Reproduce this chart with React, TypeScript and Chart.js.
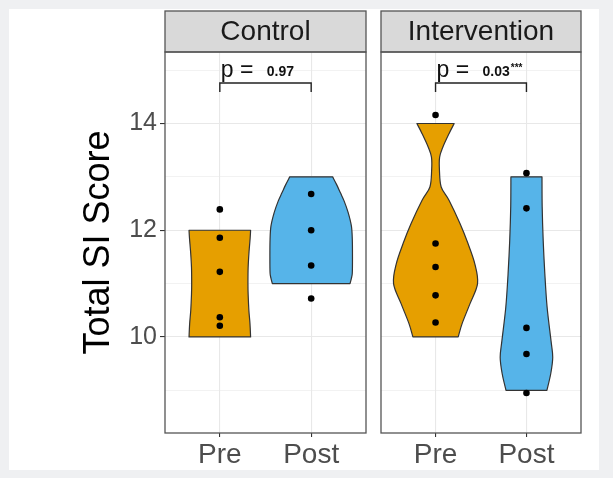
import React, { useEffect, useRef } from 'react';
import { Chart, registerables } from 'chart.js';

Chart.register(...registerables);

const FONT = "'Liberation Sans', Arial, Helvetica, sans-serif";

// ---- categories, ticks, labels ----
const categories = ['Pre', 'Post'];
const panelTitles = ['Control', 'Intervention'];
const yTickValues = [9, 10, 11, 12, 13, 14, 15];
const yLabelValues = [10, 12, 14];
const yAxisTitle = 'Total SI Score';

// ---- observed scores ----
const controlPre = [12.39, 11.86, 11.22, 10.37, 10.21];
const controlPost = [12.68, 12.0, 11.34, 10.72];
const interventionPre = [14.16, 11.75, 11.31, 10.78, 10.27];
const interventionPost = [13.07, 12.41, 10.17, 9.68, 8.95];

// ---- violin outlines: score level and half-width (x units) ----
const controlPreViolinY = [10.0, 10.25, 10.5, 10.8, 11.0, 11.3, 11.6, 11.85, 12.0];
const controlPreViolinW = [0.337, 0.33, 0.318, 0.31, 0.308, 0.31, 0.32, 0.332, 0.337];
const controlPostViolinY = [11.0, 11.1, 11.2, 11.5, 11.83, 12.08, 12.33, 12.55, 12.7, 12.85, 13.0];
const controlPostViolinW = [0.425, 0.44, 0.45, 0.452, 0.45, 0.44, 0.405, 0.36, 0.32, 0.28, 0.235];
const interventionPreViolinY = [10.0, 10.25, 10.62, 11.0, 11.37, 11.75, 12.12, 12.56, 12.81, 13.12, 13.37, 13.56, 13.81, 14.0];
const interventionPreViolinW = [0.249, 0.292, 0.378, 0.462, 0.432, 0.357, 0.27, 0.148, 0.062, 0.043, 0.045, 0.081, 0.148, 0.205];
const interventionPostViolinY = [9.0, 9.31, 9.62, 9.93, 10.56, 11.19, 11.81, 12.44, 13.0];
const interventionPostViolinW = [0.225, 0.267, 0.289, 0.27, 0.227, 0.202, 0.184, 0.173, 0.171];

// ---- comparison annotations ----
const pValueLabels = ['0.97', '0.03'];
const pStars = ['', '***'];
const bracketY = 14.76;
const bracketTipY = 14.59;
const pLabelY = 14.87;

const preColor = '#E69F00';
const postColor = '#56B4E9';

type Violin = { x: number; ys: number[]; ws: number[]; color: string };

const panelData = [
  {
    title: panelTitles[0],
    pre: controlPre,
    post: controlPost,
    violins: [
      { x: 1, ys: controlPreViolinY, ws: controlPreViolinW, color: preColor },
      { x: 2, ys: controlPostViolinY, ws: controlPostViolinW, color: postColor },
    ] as Violin[],
    p: pValueLabels[0],
    stars: pStars[0],
  },
  {
    title: panelTitles[1],
    pre: interventionPre,
    post: interventionPost,
    violins: [
      { x: 1, ys: interventionPreViolinY, ws: interventionPreViolinW, color: preColor },
      { x: 2, ys: interventionPostViolinY, ws: interventionPostViolinW, color: postColor },
    ] as Violin[],
    p: pValueLabels[1],
    stars: pStars[1],
  },
];

function smoothPath(ctx: CanvasRenderingContext2D, pts: { x: number; y: number }[]) {
  for (let i = 0; i < pts.length - 1; i++) {
    const p0 = pts[i - 1] || pts[i];
    const p1 = pts[i];
    const p2 = pts[i + 1];
    const p3 = pts[i + 2] || p2;
    const c1x = p1.x + (p2.x - p0.x) / 6;
    const c1y = p1.y + (p2.y - p0.y) / 6;
    const c2x = p2.x - (p3.x - p1.x) / 6;
    const c2y = p2.y - (p3.y - p1.y) / 6;
    ctx.bezierCurveTo(c1x, c1y, c2x, c2y, p2.x, p2.y);
  }
}

function drawViolin(ctx: CanvasRenderingContext2D, xs: any, ys: any, v: Violin) {
  const left = v.ys.map((yv, i) => ({ x: xs.getPixelForValue(v.x - v.ws[i]), y: ys.getPixelForValue(yv) }));
  const right = v.ys
    .map((yv, i) => ({ x: xs.getPixelForValue(v.x + v.ws[i]), y: ys.getPixelForValue(yv) }))
    .reverse();
  ctx.beginPath();
  ctx.moveTo(left[0].x, left[0].y);
  smoothPath(ctx, left);
  ctx.lineTo(right[0].x, right[0].y);
  smoothPath(ctx, right);
  ctx.closePath();
  ctx.fillStyle = v.color;
  ctx.fill();
  ctx.strokeStyle = '#333333';
  ctx.lineWidth = 1.2;
  ctx.lineJoin = 'round';
  ctx.stroke();
}

function Panel({ index, showY, left, width }: { index: number; showY: boolean; left: number; width: number }) {
  const ref = useRef<HTMLCanvasElement | null>(null);
  useEffect(() => {
    const d = panelData[index];
    const plugin = {
      id: 'facet' + index,
      beforeDatasetsDraw(chart: any) {
        const { ctx, chartArea, scales } = chart;
        ctx.save();
        ctx.beginPath();
        ctx.rect(chartArea.left, chartArea.top, chartArea.right - chartArea.left, chartArea.bottom - chartArea.top);
        ctx.clip();
        d.violins.forEach((v) => drawViolin(ctx, scales.x, scales.y, v));
        ctx.restore();
      },
      afterDatasetsDraw(chart: any) {
        const { ctx, scales } = chart;
        const xs = scales.x;
        const ys = scales.y;
        const x1 = xs.getPixelForValue(1);
        const x2 = xs.getPixelForValue(2);
        const yb = ys.getPixelForValue(bracketY);
        const yt = ys.getPixelForValue(bracketTipY);
        ctx.save();
        ctx.strokeStyle = '#222222';
        ctx.lineWidth = 1.4;
        ctx.beginPath();
        ctx.moveTo(x1, yt);
        ctx.lineTo(x1, yb);
        ctx.lineTo(x2, yb);
        ctx.lineTo(x2, yt);
        ctx.stroke();
        const ty = ys.getPixelForValue(pLabelY);
        ctx.fillStyle = '#111111';
        ctx.textBaseline = 'alphabetic';
        ctx.textAlign = 'left';
        ctx.font = `23px ${FONT}`;
        ctx.fillText('p =', x1 + 1, ty);
        ctx.font = `bold 14px ${FONT}`;
        const vx = x1 + 47;
        ctx.fillText(d.p, vx, ty - 1);
        if (d.stars) {
          const w = ctx.measureText(d.p).width;
          ctx.font = `bold 10px ${FONT}`;
          ctx.fillText(d.stars, vx + w + 1, ty - 6);
        }
        ctx.restore();
      },
      afterDraw(chart: any) {
        const { ctx, chartArea } = chart;
        const { left: l, right: r, top: t, bottom: b } = chartArea;
        ctx.save();
        const stripH = 41;
        ctx.fillStyle = '#d9d9d9';
        ctx.fillRect(l, t - stripH, r - l, stripH);
        ctx.strokeStyle = '#555555';
        ctx.lineWidth = 1.3;
        ctx.strokeRect(l, t - stripH, r - l, stripH);
        ctx.fillStyle = '#1a1a1a';
        ctx.font = `28px ${FONT}`;
        ctx.textAlign = 'center';
        ctx.textBaseline = 'middle';
        ctx.fillText(d.title, (l + r) / 2, t - stripH / 2 + 1);
        ctx.strokeStyle = '#555555';
        ctx.lineWidth = 1.3;
        ctx.strokeRect(l, t, r - l, b - t);
        ctx.restore();
      },
    };

    const chart = new Chart(ref.current as HTMLCanvasElement, {
      type: 'scatter',
      data: {
        datasets: [
          {
            label: categories[0],
            data: d.pre.map((v) => ({ x: 1, y: v })),
            pointRadius: 3.3,
            pointBackgroundColor: '#000000',
            pointBorderWidth: 0,
          },
          {
            label: categories[1],
            data: d.post.map((v) => ({ x: 2, y: v })),
            pointRadius: 3.3,
            pointBackgroundColor: '#000000',
            pointBorderWidth: 0,
          },
        ],
      },
      options: {
        animation: false,
        responsive: false,
        maintainAspectRatio: false,
        events: [],
        layout: { padding: { top: 52, right: 2, left: showY ? 0 : 2, bottom: 0 } },
        plugins: { legend: { display: false }, tooltip: { enabled: false } },
        scales: {
          x: {
            type: 'linear',
            min: 0.4,
            max: 2.6,
            afterBuildTicks: (s: any) => {
              s.ticks = categories.map((_, i) => ({ value: i + 1 }));
            },
            afterFit: (s: any) => {
              s.height = 45;
            },
            ticks: {
              autoSkip: false,
              maxRotation: 0,
              padding: 1,
              color: '#4d4d4d',
              font: { family: FONT, size: 28 },
              callback: (_v: any, i: number) => categories[i],
            },
            grid: { color: '#e8e8e8', lineWidth: 1.1, tickLength: 4, tickColor: '#333333' },
            border: { display: false },
          },
          y: {
            type: 'linear',
            min: 8.2,
            max: 15.34,
            afterBuildTicks: (s: any) => {
              s.ticks = yTickValues.map((v) => ({ value: v }));
            },
            afterFit: (s: any) => {
              s.width = showY ? 92 : 0;
            },
            ticks: {
              display: showY,
              autoSkip: false,
              padding: 3,
              color: '#4d4d4d',
              font: { family: FONT, size: 25 },
              callback: (v: any) => (yLabelValues.includes(v) ? String(v) : ''),
            },
            grid: {
              color: '#e8e8e8',
              lineWidth: (c: any) => (c.tick && yLabelValues.includes(c.tick.value) ? 1.1 : 0.55),
              drawTicks: showY,
              tickLength: showY ? 5 : 0,
              tickColor: (c: any) => (c.tick && yLabelValues.includes(c.tick.value) ? '#333333' : 'rgba(0,0,0,0)'),
            },
            border: { display: false },
            title: {
              display: showY,
              text: yAxisTitle,
              color: '#000000',
              font: { family: FONT, size: 36 },
              padding: { top: 4, bottom: 0 },
            },
          },
        },
      },
      plugins: [plugin],
    } as any);
    return () => chart.destroy();
  }, [index, showY]);

  return (
    <canvas
      ref={ref}
      width={width}
      height={478}
      style={{ position: 'absolute', left, top: 0, width, height: 478 }}
    />
  );
}

export default function App() {
  return (
    <div
      style={{
        position: 'fixed',
        left: 0,
        top: 0,
        width: 613,
        height: 478,
        background: '#eff0f2',
        overflow: 'hidden',
      }}
    >
      <div style={{ position: 'absolute', left: 9, top: 9, width: 590, height: 461, background: '#ffffff' }} />
      <Panel index={0} showY={true} left={73} width={297} />
      <Panel index={1} showY={false} left={377} width={208} />
    </div>
  );
}
